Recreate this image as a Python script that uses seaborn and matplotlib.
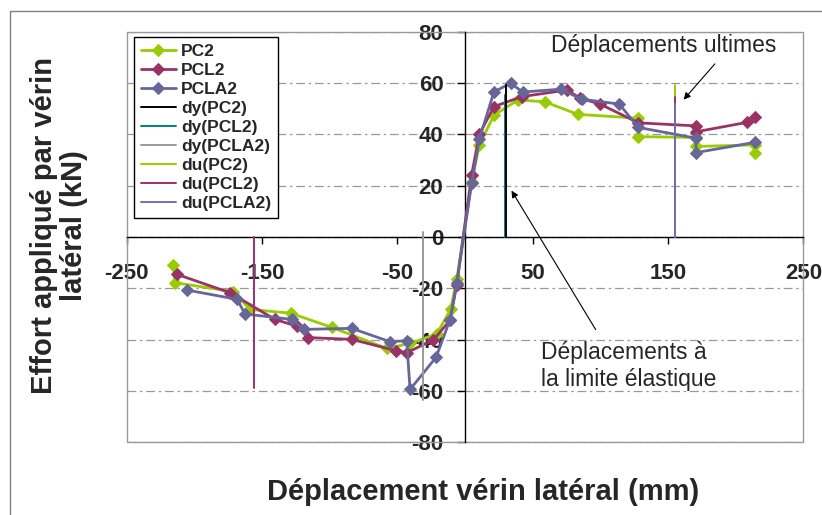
import numpy as np
import pandas as pd
import matplotlib
matplotlib.use("Agg")
import matplotlib.pyplot as plt
from matplotlib.patches import Rectangle
import seaborn as sns

# envelope curves (mm, kN)
pc2_x = [-215.6, -214.3, -171.2, -158.9, -128.8, -98.5, -57.9, -40.6, -20.9, -10.6, -6.1,
         4.9, 10.6, 21.4, 39.2, 58.9, 83.3, 128.1, 128.1, 170.7, 170.7, 214.3, 214.3]
pc2_y = [-10.9, -17.8, -21.3, -28.2, -29.7, -35.2, -43.4, -41.5, -37.8, -28.2, -16.5,
         21.5, 35.9, 47.5, 53.4, 52.7, 47.8, 46.3, 39.1, 38.8, 35.3, 35.9, 32.8]

pcl2_x = [-213.1, -173.7, -140.5, -124.4, -115.8, -83.7, -51.0, -43.1, -23.4, -11.1, -6.1,
          4.9, 10.6, 21.4, 41.9, 75.6, 85.0, 99.8, 128.1, 170.7, 170.7, 208.6, 214.3]
pcl2_y = [-14.5, -21.7, -32.1, -34.7, -39.2, -39.9, -44.3, -45.1, -40.1, -32.5, -18.6,
          24.2, 40.1, 50.8, 54.7, 57.3, 54.1, 51.8, 44.5, 43.3, 41.0, 44.7, 46.9]

pcla2_x = [-205.2, -168.3, -162.6, -128.1, -119.0, -83.7, -55.4, -43.1, -40.6, -21.4, -11.1, -6.1,
           4.9, 10.6, 21.4, 33.8, 42.6, 70.7, 86.3, 114.0, 128.1, 170.7, 170.7, 214.3]
pcla2_y = [-20.7, -24.3, -30.0, -32.1, -36.0, -35.6, -40.8, -40.4, -59.4, -46.9, -32.3, -18.0,
           20.9, 38.1, 56.6, 59.9, 56.5, 57.6, 53.7, 51.8, 42.7, 38.5, 32.9, 36.9]

# yield (dy) and ultimate (du) displacement markers
dy_pc2_x, dy_pc2_y = [30.3, 30.3], [0, 59.2]
dy_pcl2_x, dy_pcl2_y = [29.5, 29.5], [0, 55.3]
dy_pcla2_x, dy_pcla2_y = [-30.8, -30.8], [2, -63.5]
du_pc2_x, du_pc2_y = [155.2, 155.2], [0, 59.2]
du_pcl2_x, du_pcl2_y = [155.2, 155.2, np.nan, -156.0, -156.0], [0, 54.7, np.nan, 0, -58.8]
du_pcla2_x, du_pcla2_y = [155.2, 155.2], [0, 51.8]

x_ticks = [-250, -150, -50, 50, 150, 250]
y_ticks = [-80, -60, -40, -20, 0, 20, 40, 60, 80]

green, maroon, blue = "#99CC00", "#993366", "#666699"

sns.set_style("white")
plt.rcParams["font.family"] = ["Liberation Sans", "DejaVu Sans"]

fig, ax = plt.subplots(figsize=(8.22, 5.15), dpi=100)
fig.subplots_adjust(left=0.1541, right=0.9773, top=0.9384, bottom=0.1412)

curves = [("PC2", pc2_x, pc2_y, green),
          ("PCL2", pcl2_x, pcl2_y, maroon),
          ("PCLA2", pcla2_x, pcla2_y, blue)]
for name, xs, ys, col in curves:
    df = pd.DataFrame({"x": xs, "y": ys})
    sns.lineplot(data=df, x="x", y="y", sort=False, estimator=None, color=col,
                 marker="D", markersize=6.5, markeredgecolor=col, linewidth=2,
                 label=name, ax=ax, zorder=3)

verticals = [("dy(PC2)", dy_pc2_x, dy_pc2_y, "black", 3.2),
             ("dy(PCL2)", dy_pcl2_x, dy_pcl2_y, "#008080", 3.1),
             ("dy(PCLA2)", dy_pcla2_x, dy_pcla2_y, "#999999", 3),
             ("du(PC2)", du_pc2_x, du_pc2_y, green, 3),
             ("du(PCL2)", du_pcl2_x, du_pcl2_y, maroon, 3),
             ("du(PCLA2)", du_pcla2_x, du_pcla2_y, "#7070B0", 3)]
for name, xs, ys, col, z in verticals:
    ax.plot(xs, ys, color=col, lw=1.4, label=name, zorder=z)

# axes cross at the origin (done first: moving spines resets the ticks)
ax.spines["left"].set_position(("data", 0))
ax.spines["bottom"].set_position(("data", 0))
for s in ["left", "bottom"]:
    ax.spines[s].set_color("black")
    ax.spines[s].set_linewidth(1)
    ax.spines[s].set_zorder(2)
ax.spines["top"].set_visible(False)
ax.spines["right"].set_visible(False)
ax.add_patch(Rectangle((0, 0), 1, 1, transform=ax.transAxes, fill=False,
                       edgecolor="#999999", lw=1, clip_on=False, zorder=1))

ax.set_xlim(-250, 250)
ax.set_ylim(-80, 80)
ax.tick_params(axis="x", direction="out", length=5, width=1, pad=13.5, color="black",
               bottom=True)
ax.tick_params(axis="y", direction="out", length=6, width=1, pad=9.5, color="black",
               left=True)
ax.set_xticks(x_ticks)
ax.set_yticks(y_ticks)
ax.set_xticklabels([str(v) for v in x_ticks], fontsize=16, fontweight="bold")
ax.set_yticklabels([str(v) for v in y_ticks], fontsize=16, fontweight="bold")

ax.yaxis.grid(True, color="#999999", lw=0.9, linestyle=(0, (7, 3, 2, 3)))
ax.xaxis.grid(False)
ax.set_axisbelow(True)

ax.set_xlabel("Déplacement vérin latéral (mm)", fontsize=21, fontweight="bold", va="center")
ax.xaxis.set_label_coords(0.527, -0.122)
ax.set_ylabel("Effort appliqué par vérin\nlatéral (kN)", fontsize=21, fontweight="bold",
              ha="center", va="center", linespacing=1.1)
ax.yaxis.set_label_coords(-0.1, 0.529)

leg = ax.legend(loc="upper left", bbox_to_anchor=(0.0108, 0.987), borderaxespad=0,
                fancybox=False, framealpha=1, edgecolor="black",
                prop={"weight": "bold", "size": 12.5}, labelspacing=0.22,
                handlelength=2.0, handletextpad=0.3, borderpad=0.4)
leg.get_frame().set_linewidth(1)

ax.text(147, 74.8, "Déplacements ultimes", fontsize=16.5, ha="center", va="center")
ax.annotate("", xy=(160.2, 52.7), xytext=(186.0, 68.3),
            arrowprops=dict(arrowstyle="-|>", color="black", lw=0.8, mutation_scale=10))
ax.text(56.2, -50.3, "Déplacements à\nla limite élastique", fontsize=16.5,
        ha="left", va="center", linespacing=1.25)
ax.annotate("", xy=(33.3, 19.0), xytext=(97.6, -37.0),
            arrowprops=dict(arrowstyle="-|>", color="black", lw=0.8, mutation_scale=10))

fig.patches.append(Rectangle((10 / 822, -0.1), 1.2, 1.1 - 11 / 515, transform=fig.transFigure,
                             fill=False, edgecolor="#808080", lw=1))

fig.savefig("out.png", dpi=100)
